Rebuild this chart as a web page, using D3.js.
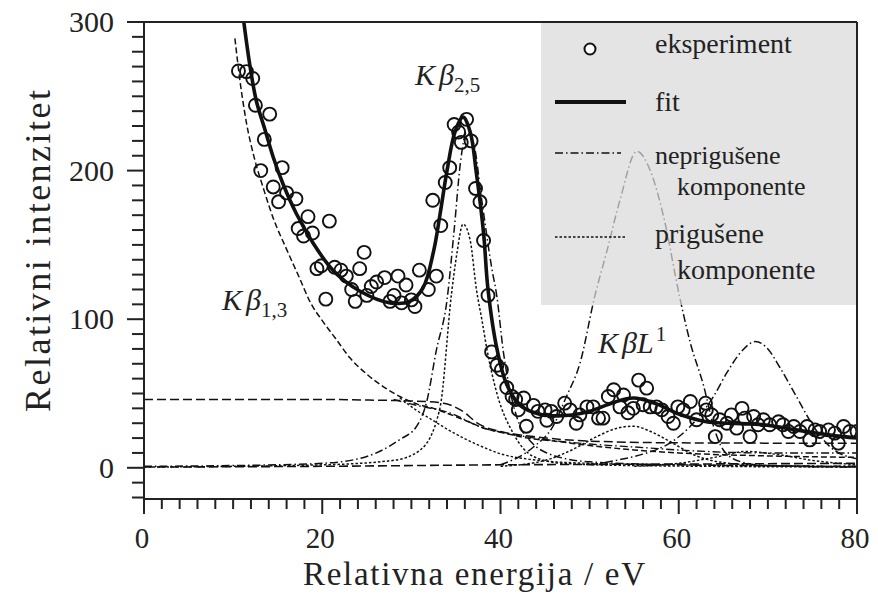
<!DOCTYPE html>
<html><head><meta charset="utf-8">
<script src="https://cdn.jsdelivr.net/npm/d3@7"></script>
<style>body{margin:0;background:#fff}svg{display:block}
svg text{font-family:"Liberation Serif","DejaVu Serif","Noto Serif",serif;}</style>
</head><body>
<svg id="c" width="878" height="606"></svg>
<script>
// ---------- data ----------
const xTicks = [0, 20, 40, 60, 80];
const yTicks = [0, 100, 200, 300];

const experiment = [[10.6,267],[11.5,266.6],[12.2,262],[12.5,244],[13.1,200],[13.5,221],[14.1,238],[14.5,189],[15.1,179],[15.5,202],[16.0,185],[17.05,181],[17.3,161],[17.9,156],[18.4,169],[18.9,158],[19.4,134],[19.9,136],[20.4,113.5],[20.8,166],[21.4,135],[22.1,133],[22.7,129],[23.3,120],[23.7,112],[24.2,134],[24.7,145],[25.0,116],[25.5,122],[26.1,125],[27.0,128],[27.6,112],[28.05,116],[28.5,129],[28.9,111],[29.4,123],[30.0,113],[30.4,108.5],[30.9,133],[31.9,120],[32.4,180],[32.8,129],[33.3,163],[33.8,192],[34.3,202],[34.8,231],[35.3,226],[35.6,219],[36.2,234.5],[36.7,220],[37.2,188],[37.7,179],[38.1,153],[38.6,116],[39.0,78],[39.6,69],[40.1,66],[40.7,54],[41.3,48],[41.7,46],[42.0,39],[42.6,47],[42.9,28],[43.7,42],[44.2,38],[45.0,39],[45.2,32],[45.7,38],[46.3,34.5],[47.2,43.5],[47.8,39],[48.5,30],[48.9,35.6],[49.7,41],[50.4,41],[51.0,33.4],[51.5,33.4],[52.1,48],[52.7,52.5],[53.4,41],[53.8,49],[54.3,37],[54.9,40],[55.5,59],[56.0,42.4],[56.4,53.6],[56.8,41],[57.5,41],[58.1,39],[58.8,34.5],[59.4,30],[59.9,41],[60.5,39],[61.3,44.6],[62.0,32.3],[63.0,43.5],[63.1,39],[63.7,35.6],[64.1,21],[64.6,32.3],[65.4,30],[65.9,35.6],[66.5,26.7],[67.1,40],[67.4,33.4],[68.0,21],[68.4,34.5],[68.9,29],[69.5,32.3],[70.2,29],[71.2,31],[71.7,29],[72.3,24.4],[72.9,27.8],[73.6,24.4],[74.4,27.8],[74.7,18.8],[75.3,25.5],[75.8,24.4],[76.8,25.5],[77.5,23.3],[77.9,16.6],[78.5,27.8],[79.2,24.4],[80.0,24.4]];

const fit = [[11.2,300],[11.9,270],[12.6,247],[13.6,227],[14.5,209],[15.6,191],[17.1,171],[19.0,151],[21.2,133],[24.2,119],[27.6,111],[29.8,112],[31.3,121],[32.5,146],[33.2,170],[34.0,200],[34.9,226],[35.8,236],[36.6,226],[37.3,198],[38.1,158],[38.6,120],[39.6,80],[40.7,56],[42.2,42],[44.4,36],[46,35],[48,35.5],[50,38],[52.7,44],[54.9,47],[57.5,43],[60.1,36],[63.1,31],[65.7,30],[69.5,29],[73.2,25.5],[77,22],[80,20]];

// components
const kb13 = [[10.2,289],[10.8,259],[11.5,232],[12.4,208],[13.4,188],[14.5,168],[16,147],[17.5,127],[18.6,112],[20,99],[21.5,87],[23.1,74],[25,63],[27,54],[28.7,48],[30.6,43],[32.5,40],[34.3,36],[36,32],[38,27],[40.7,23],[43,20],[46,18],[50,15],[55,12],[60,10],[70,8],[80,7]];
const kb13Quenched = [[28.7,47],[30.5,39],[32.4,32],[34.3,25],[36.2,19],[38,14],[40,9.4],[43.7,5.4],[50,3],[60,2],[80,1]];
const stepBg = [[0,46],[10,46],[20,46],[26,45.5],[30,45],[33.6,43.5],[35.5,39],[37.7,29],[40,24.4],[43.7,21],[47,19],[51.2,17.7],[60,16.8],[70,16.6],[80,16.6]];
const kb25 = [[0,1],[10,1.5],[20,3],[25,7.6],[28.7,19],[30.6,28],[31.7,44],[32.8,79],[34.0,113],[34.8,160],[35.5,205],[36.2,226],[37.0,218],[37.9,180],[39.0,135],[39.6,115],[40.3,79],[40.9,57],[42.2,28],[43.5,17],[45.2,10],[50,4],[60,2],[80,1]];
const kb25Quenched = [[0,0.5],[20,2],[28,5],[31,12],[33.2,40],[34.5,117],[35.1,144],[35.8,164],[36.6,153],[37.3,120],[37.9,100],[38.5,79],[39.6,50],[41.4,23.5],[43.7,7.6],[47,3],[55,1.5],[80,0.5]];
const kbL1 = [[40,2],[43.7,14],[45.9,28],[47.4,48],[48.9,70],[50.6,116],[51.9,145],[53.4,180],[55.3,213],[56.8,200],[58.3,169],[60.1,115],[61.3,84],[62.8,55],[63.9,28],[65,12],[67,4],[70,1.5],[80,0.5]];
const kbL1Quenched = [[40,1],[45,5],[48,12],[50.8,21],[53,26.5],[54.9,28],[57,24],[59,17.7],[62,8],[65,3.5],[70,1.5],[80,0.5]];
const kbL2 = [[50,2],[53,5],[56.4,10],[59,16.6],[61.3,28],[63.9,48],[65.4,64],[67,78],[68.6,85],[70,80],[71.3,68],[73.2,48],[75.1,28],[77,14],[80,6]];
const kbL2Quenched = [[55,1],[60,3],[64,7],[67.6,11],[71,9],[75,5],[80,2]];
const tailUnq = [[28,46],[30.6,42],[34.3,37],[38.1,26.7],[40.7,23.3],[45,19],[50,16],[55,14],[60,12],[65,10.5],[70,10],[80,10]];
const baseline = [[0,0.5],[20,1],[40,2],[60,2.5],[80,3]];

// legend entries
const legendLabels = ["eksperiment", "fit", "neprigušene", "komponente", "prigušene", "komponente"];

// ---------- drawing ----------
const svg = d3.select("#c");
const x = d3.scaleLinear().domain([0, 80]).range([144, 857]);
const y = d3.scaleLinear().domain([-21, 300]).range([499, 22]);

svg.append("defs").append("clipPath").attr("id","plot")
  .append("rect").attr("x",144).attr("y",22).attr("width",713).attr("height",477);

const line = d3.line().x(d=>x(d[0])).y(d=>y(d[1])).curve(d3.curveMonotoneX);
const gC = svg.append("g").attr("clip-path","url(#plot)");

const DASH = "6,3", DASHDOT = "8,3,1.5,3", DOT = "2.5,2", LONG = "9,4";
function curve(data, dash, w){
  gC.append("path").datum(data).attr("d", line)
    .attr("fill","none").attr("stroke","#111").attr("stroke-width", w || 1.4)
    .attr("stroke-dasharray", dash);
}
curve(baseline, LONG, 1.6);
curve(stepBg, LONG, 1.5);
curve(tailUnq, DASHDOT, 1.4);
curve(kb13, DASH, 1.5);
curve(kb13Quenched, DOT, 1.4);
curve(kb25, DASHDOT, 1.5);
curve(kb25Quenched, DOT, 1.5);
curve(kbL1, DASHDOT, 1.5);
curve(kbL1Quenched, DOT, 1.5);
curve(kbL2, DASHDOT, 1.5);
curve(kbL2Quenched, DOT, 1.4);

// fit
gC.append("path").datum(fit).attr("d", d3.line().x(d=>x(d[0])).y(d=>y(d[1])).curve(d3.curveCatmullRom))
  .attr("fill","none").attr("stroke","#111").attr("stroke-width",3.6);

// experiment circles
gC.selectAll("circle.e").data(experiment).join("circle").attr("class","e")
  .attr("cx",d=>x(d[0])).attr("cy",d=>y(d[1])).attr("r",6.5)
  .attr("fill","none").attr("stroke","#111").attr("stroke-width",1.9);

// axes
const yMinor = d3.range(-20, 301, 10);
const xMinor = d3.range(0, 81, 2);
const ax = svg.append("g").attr("stroke","#222").attr("stroke-width",2);
ax.append("line").attr("x1",144).attr("x2",144).attr("y1",22).attr("y2",499);
ax.append("line").attr("x1",144).attr("x2",857).attr("y1",499).attr("y2",499);
ax.append("line").attr("x1",144).attr("x2",857).attr("y1",22).attr("y2",22);
ax.append("line").attr("x1",857).attr("x2",857).attr("y1",22).attr("y2",499);
ax.selectAll("line.ym").data(yMinor).join("line").attr("class","ym")
  .attr("x1",d=> yTicks.includes(d) ? 127 : 132).attr("x2",144)
  .attr("y1",d=>y(d)).attr("y2",d=>y(d));
ax.selectAll("line.xm").data(xMinor).join("line").attr("class","xm")
  .attr("y1",499).attr("y2",d=> xTicks.includes(d) ? 514 : 509)
  .attr("x1",d=>x(d)).attr("x2",d=>x(d));

svg.selectAll("text.yt").data(yTicks).join("text").attr("class","yt")
  .attr("x",114).attr("y",d=>y(d)+10).attr("text-anchor","end")
  .attr("font-size",30).attr("fill","#222").text(d=>d);
svg.selectAll("text.xt").data(xTicks).join("text").attr("class","xt")
  .attr("x",d=>x(d)-2).attr("y",548).attr("text-anchor","middle")
  .attr("font-size",29).attr("fill","#222").text(d=>d);

svg.append("text").attr("x",474).attr("y",585).attr("text-anchor","middle")
  .attr("font-size",33).attr("fill","#222")
  .attr("textLength",342).attr("lengthAdjust","spacing")
  .text("Relativna energija / eV");
svg.append("text").attr("transform","translate(50,251) rotate(-90)").attr("text-anchor","middle")
  .attr("font-size",36).attr("fill","#222")
  .attr("textLength",322).attr("lengthAdjust","spacing")
  .text("Relativni intenzitet");

// peak labels
function peakLabel(px, py, sub, sup, extra){
  const t = svg.append("text").attr("x",px).attr("y",py)
    .attr("font-size",30).attr("fill","#222");
  t.append("tspan").attr("font-style","italic").text("K");
  t.append("tspan").attr("font-style","italic").attr("dx",4).text("β");
  if (extra) t.append("tspan").attr("font-style","italic").text(extra);
  if (sub) t.append("tspan").attr("font-size",21).attr("dy",7).text(sub);
  if (sup) t.append("tspan").attr("font-size",21).attr("dy",-12).attr("dx",2).text(sup);
}
peakLabel(415, 85, "2,5");
peakLabel(222, 310, "1,3");
peakLabel(598, 353, null, "1", "L");

// legend
svg.append("rect").attr("x",541).attr("y",23).attr("width",315).attr("height",282)
  .attr("fill","#dadada").attr("opacity",0.72);
const lg = svg.append("g");
lg.append("circle").attr("cx",590).attr("cy",49).attr("r",5.5)
  .attr("fill","#fff").attr("stroke","#111").attr("stroke-width",2);
lg.append("line").attr("x1",555).attr("x2",626).attr("y1",102).attr("y2",102)
  .attr("stroke","#111").attr("stroke-width",4);
lg.append("line").attr("x1",555).attr("x2",621).attr("y1",153).attr("y2",153)
  .attr("stroke","#111").attr("stroke-width",1.5).attr("stroke-dasharray",DASHDOT);
lg.append("line").attr("x1",555).attr("x2",626).attr("y1",237).attr("y2",237)
  .attr("stroke","#111").attr("stroke-width",1.5).attr("stroke-dasharray",DOT);
const legPos = [[655,53],[655,111],[655,164],[677,195],[655,243],[677,279]];
lg.selectAll("text").data(legendLabels).join("text")
  .attr("x",(d,i)=>legPos[i][0]).attr("y",(d,i)=>legPos[i][1])
  .attr("font-size",(d,i)=> (i===2||i===3) ? 26 : 28).attr("fill","#222").text(d=>d);
</script>
</body></html>
